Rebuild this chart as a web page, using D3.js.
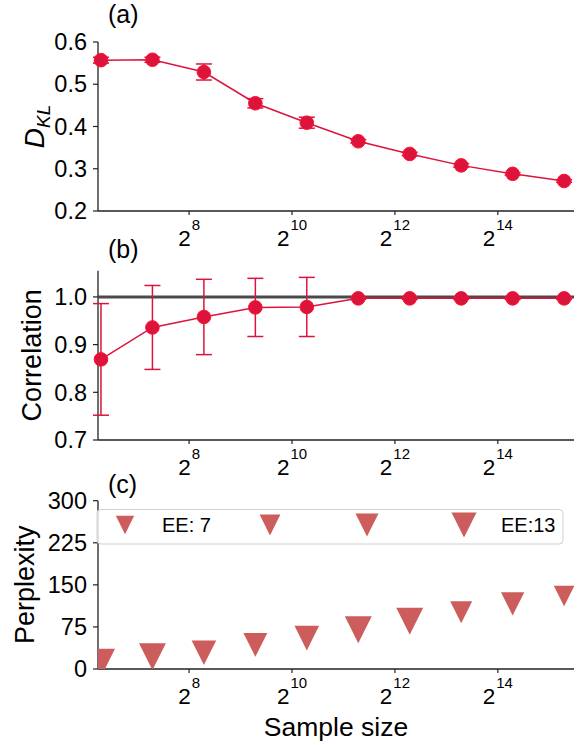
<!DOCTYPE html>
<html>
<head>
<meta charset="utf-8">
<script src="https://cdn.jsdelivr.net/npm/d3@7"></script>
<style>
  body { margin: 0; background: white; }
  text { font-family: "Liberation Sans", Arial, sans-serif; fill: black; }
</style>
</head>
<body>
<script>
// ----------------------------------------------- Data ------------------------------------------------ //
var sample_sizes = [78.125, 156.25, 312.5, 625, 1250, 2500, 5000, 10000, 20000, 40000];

// (a) KL divergence, mean and error
var dkl_mean = [0.557, 0.558, 0.529, 0.455, 0.409, 0.365, 0.335, 0.308, 0.288, 0.271];
var dkl_err  = [0.007, 0.006, 0.019, 0.011, 0.013, 0.004, 0.004, 0.004, 0.003, 0.003];

// (b) correlation, mean and error
var corr_mean = [0.869, 0.936, 0.958, 0.978, 0.979, 0.997, 0.997, 0.997, 0.997, 0.997];
var corr_err  = [0.117, 0.088, 0.079, 0.061, 0.062, 0.002, 0.002, 0.002, 0.002, 0.002];
var corr_ref = 1.0;

// (c) perplexity with early exaggeration as marker size
var perplexity = [11, 22, 29, 43, 55, 70, 85, 101, 116, 130];
var ee_values  = [13, 12, 10, 9.5, 10, 12, 12, 8, 9, 7];

// legend
var legend_ee = [7, 9, 11, 13];
var legend_labels = ["EE: 7", "", "", "EE:13"];

// ticks
var x_tick_exp = [8, 10, 12, 14];
var dkl_ticks = [0.2, 0.3, 0.4, 0.5, 0.6];
var corr_ticks = [0.7, 0.8, 0.9, 1.0];
var perp_ticks = [0, 75, 150, 225, 300];

// ------------------------------------------ Init SVG ------------------------------------------------- //
var width = 580, height = 745;
var red = "#dc143c",
    tri_color = "#cd5c5c";

var svg = d3.select("body")
    .append("svg")
    .attr("width", width)
    .attr("height", height);

var x = d3.scaleLog().base(2)
    .domain([Math.pow(2, 6.23), Math.pow(2, 15.48)])
    .range([98, 574]);

var y_a = d3.scaleLinear().domain([0.2, 0.6]).range([211, 42]);
var y_b = d3.scaleLinear().domain([0.7, 1.055]).range([440, 270.7]);
var y_c = d3.scaleLinear().domain([0, 300]).range([669, 500.7]);

var size_data = d3.scaleSqrt().domain([0, 13]).range([0, 28]);
var size_leg  = d3.scaleSqrt().domain([0, 13]).range([0, 25]);

// ------------------------------------------ Draw Functions ------------------------------------------- //
function draw_axes(y, ticks, fmt) {
    var g = svg.append("g").attr("class", "axes");
    var y0 = y.range()[0];

    // spines
    g.append("line")
        .attr("x1", x.range()[0]).attr("x2", x.range()[1])
        .attr("y1", y0).attr("y2", y0)
        .attr("stroke", "#222").attr("stroke-width", 1.3);
    g.append("line")
        .attr("x1", x.range()[0]).attr("x2", x.range()[0])
        .attr("y1", y.range()[0]).attr("y2", y.range()[1])
        .attr("stroke", "#222").attr("stroke-width", 1.3);

    // y ticks
    var yt = g.selectAll(".ytick").data(ticks).enter().append("g").attr("class", "ytick");
    yt.append("line")
        .attr("x1", x.range()[0] - 5).attr("x2", x.range()[0])
        .attr("y1", d => y(d)).attr("y2", d => y(d))
        .attr("stroke", "#222").attr("stroke-width", 1.2);
    yt.append("text")
        .attr("x", x.range()[0] - 11)
        .attr("y", d => y(d))
        .attr("dy", "0.35em")
        .attr("text-anchor", "end")
        .attr("font-size", "23.5px")
        .text(fmt);

    // x ticks (powers of two)
    var xt = g.selectAll(".xtick").data(x_tick_exp).enter().append("g").attr("class", "xtick");
    xt.append("line")
        .attr("x1", d => x(Math.pow(2, d))).attr("x2", d => x(Math.pow(2, d)))
        .attr("y1", y0).attr("y2", y0 + 4)
        .attr("stroke", "#222").attr("stroke-width", 1.2);
    var lbl = xt.append("text")
        .attr("x", d => x(Math.pow(2, d)))
        .attr("y", y0 + 35)
        .attr("text-anchor", "middle");
    lbl.append("tspan").attr("font-size", "22.5px").text("2");
    lbl.append("tspan").attr("font-size", "15px").attr("dy", -16).attr("dx", 1).text(d => d);
    return g;
}

function draw_errorbars(y, mean, err) {
    var g = svg.append("g").attr("class", "errorbars");
    var data = sample_sizes.map((s, i) => ({s: s, m: mean[i], e: err[i]}));
    g.selectAll(".bar").data(data).enter().append("line")
        .attr("x1", d => x(d.s)).attr("x2", d => x(d.s))
        .attr("y1", d => y(d.m - d.e)).attr("y2", d => y(d.m + d.e))
        .attr("stroke", red).attr("stroke-width", 1.5);
    [-1, 1].forEach(sgn => {
        g.selectAll(".cap" + sgn).data(data).enter().append("line")
            .attr("x1", d => x(d.s) - 8).attr("x2", d => x(d.s) + 8)
            .attr("y1", d => y(d.m + sgn * d.e)).attr("y2", d => y(d.m + sgn * d.e))
            .attr("stroke", red).attr("stroke-width", 1.5);
    });
    var line = d3.line().x(d => x(d.s)).y(d => y(d.m));
    g.append("path")
        .datum(data)
        .attr("d", line)
        .attr("fill", "none")
        .attr("stroke", red)
        .attr("stroke-width", 1.5);
    g.selectAll("circle").data(data).enter().append("circle")
        .attr("cx", d => x(d.s)).attr("cy", d => y(d.m))
        .attr("r", 6.8)
        .attr("fill", red)
        .attr("stroke", "#ff1030")
        .attr("stroke-width", 1);
}

function tri_path(cx, cy, w) {
    var h = w / 2;
    return "M" + (cx - h) + "," + (cy - h) + "L" + (cx + h) + "," + (cy - h) + "L" + cx + "," + (cy + h) + "Z";
}

function panel_label(txt, yy) {
    svg.append("text")
        .attr("x", 108).attr("y", yy)
        .attr("font-size", "25px")
        .text(txt);
}

function ylabel(y, xx, size) {
    var cy = (y.range()[0] + y.range()[1]) / 2;
    return svg.append("text")
        .attr("transform", "translate(" + xx + "," + cy + ") rotate(-90)")
        .attr("text-anchor", "middle")
        .attr("font-size", size);
}

// ----------------------------------------------- Panel (a) ------------------------------------------ //
draw_axes(y_a, dkl_ticks, d => d.toFixed(1));
draw_errorbars(y_a, dkl_mean, dkl_err);
panel_label("(a)", 23);
var dl = ylabel(y_a, 44, "28px");
dl.append("tspan").attr("font-style", "italic").text("D");
dl.append("tspan").attr("font-style", "italic").attr("font-size", "19px").attr("dy", 6).text("KL");

// ----------------------------------------------- Panel (b) ------------------------------------------ //
draw_axes(y_b, corr_ticks, d => d.toFixed(1));
svg.append("line")
    .attr("x1", x.range()[0]).attr("x2", x.range()[1])
    .attr("y1", y_b(corr_ref)).attr("y2", y_b(corr_ref))
    .attr("stroke", "#4a4a4a").attr("stroke-width", 3);
draw_errorbars(y_b, corr_mean, corr_err);
panel_label("(b)", 258);
ylabel(y_b, 41, "27px").text("Correlation");

// ----------------------------------------------- Panel (c) ------------------------------------------ //
draw_axes(y_c, perp_ticks, d => d);
svg.append("clipPath").attr("id", "clip_c")
    .append("rect")
    .attr("x", x.range()[0]).attr("y", y_c.range()[1])
    .attr("width", x.range()[1] - x.range()[0])
    .attr("height", y_c.range()[0] - y_c.range()[1]);
svg.append("g").attr("clip-path", "url(#clip_c)")
    .selectAll("path")
    .data(sample_sizes.map((s, i) => ({s: s, p: perplexity[i], ee: ee_values[i]})))
    .enter().append("path")
        .attr("d", d => tri_path(x(d.s), y_c(d.p), size_data(d.ee)))
        .attr("fill", tri_color);
panel_label("(c)", 493);
ylabel(y_c, 34, "27px").text("Perplexity");

// legend
var legend = svg.append("g").attr("class", "legend");
legend.append("rect")
    .attr("x", 97).attr("y", 509.5)
    .attr("width", 466).attr("height", 34.5)
    .attr("rx", 4)
    .attr("fill", "white").attr("fill-opacity", 0.8)
    .attr("stroke", "#d0d0d0").attr("stroke-width", 1);
var leg_x = [125, 270, 367, 464];
legend.selectAll("path").data(legend_ee).enter().append("path")
    .attr("d", (d, i) => tri_path(leg_x[i], 525, size_leg(d)))
    .attr("fill", tri_color);
legend.selectAll("text").data(legend_labels).enter().append("text")
    .attr("x", (d, i) => leg_x[i] + 37)
    .attr("y", 532)
    .attr("font-size", "20px")
    .text(d => d);

svg.append("text")
    .attr("x", (x.range()[0] + x.range()[1]) / 2)
    .attr("y", 736)
    .attr("text-anchor", "middle")
    .attr("font-size", "26.5px")
    .text("Sample size");
</script>
</body>
</html>
